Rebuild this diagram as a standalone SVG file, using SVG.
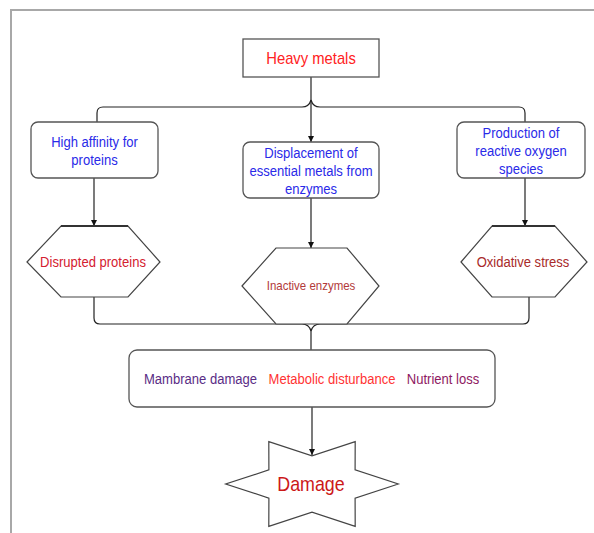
<svg xmlns="http://www.w3.org/2000/svg" width="594" height="533" viewBox="0 0 594 533">
<style>
  .frame { fill: none; stroke: #a8a8a8; stroke-width: 2; }
  .box { fill: #ffffff; stroke: #555555; stroke-width: 1.3; }
  .hex { fill: #ffffff; stroke: #444444; stroke-width: 1.2; }
  .hextop { fill: none; stroke: #333333; stroke-width: 2; }
  .conn { fill: none; stroke: #222222; stroke-width: 1.2; }
  text { font-family: "Liberation Sans", Arial, sans-serif; text-anchor: middle; dominant-baseline: central; }
  .blue { fill: #2a2ae8; font-size: 15px; }
  .t15 { font-size: 15px; }
</style>
<defs>
  <marker id="arr" viewBox="0 0 10 10" refX="10" refY="5" markerWidth="6" markerHeight="6" orient="auto" markerUnits="userSpaceOnUse">
    <path d="M0,0 L10,5 L0,10 z" fill="#111111"/>
  </marker>
</defs>

<path class="frame" d="M11,533 L11,10 L594,10"/>

<g id="connectors">
  <path class="conn" d="M311,77 L311,142" marker-end="url(#arr)"/>
  <path class="conn" d="M97,122 L97,113 Q97,107 103,107 L302,107 Q309,107 311,100"/>
  <path class="conn" d="M525,122 L525,113 Q525,107 519,107 L320,107 Q313,107 311,100"/>
  <path class="conn" d="M94,178 L94,226" marker-end="url(#arr)"/>
  <path class="conn" d="M311,198 L311,248" marker-end="url(#arr)"/>
  <path class="conn" d="M525,178 L525,226" marker-end="url(#arr)"/>
  <path class="conn" d="M94,297 L94,318 Q94,324 100,324 L302,324 Q309,324 311,331"/>
  <path class="conn" d="M529,297 L529,318 Q529,324 523,324 L320,324 Q313,324 311,331"/>
  <path class="conn" d="M311,331 L311,350"/>
  <path class="conn" d="M312,407 L312,455" marker-end="url(#arr)"/>
</g>

<g id="heavy-metals">
  <rect class="box" x="243" y="39" width="136" height="38"/>
  <text transform="translate(311,58) scale(0.87,1)" style="font-size:17px; fill:#ff2222;">Heavy metals</text>
</g>

<g id="high-affinity">
  <rect class="box" x="31" y="122" width="127" height="56" rx="7"/>
  <text class="blue" transform="translate(94.5,142) scale(0.87,1)">High affinity for</text>
  <text class="blue" transform="translate(94.5,160) scale(0.87,1)">proteins</text>
</g>

<g id="displacement">
  <rect class="box" x="243" y="142" width="136" height="56" rx="7"/>
  <text class="blue" transform="translate(311,153) scale(0.87,1)">Displacement of</text>
  <text class="blue" transform="translate(311,171) scale(0.87,1)">essential metals from</text>
  <text class="blue" transform="translate(311,189) scale(0.87,1)">enzymes</text>
</g>

<g id="ros">
  <rect class="box" x="457" y="122" width="128" height="56" rx="7"/>
  <text class="blue" transform="translate(521,133) scale(0.87,1)">Production of</text>
  <text class="blue" transform="translate(521,151) scale(0.87,1)">reactive oxygen</text>
  <text class="blue" transform="translate(521,169) scale(0.87,1)">species</text>
</g>

<g id="disrupted-proteins">
  <polygon class="hex" points="27,262 61,226 128,226 160,262 128,297 61,297"/>
  <path class="hextop" d="M61,226 L128,226"/>
  <text class="t15" transform="translate(93,262) scale(0.87,1)" style="fill:#d42030;">Disrupted proteins</text>
</g>

<g id="inactive-enzymes">
  <polygon class="hex" points="242,286 276,248 347,248 379,286 347,324 276,324"/>
  <text transform="translate(311,286) scale(0.87,1)" style="font-size:13.2px; fill:#b23a3a;">Inactive enzymes</text>
</g>

<g id="oxidative-stress">
  <polygon class="hex" points="461,262 492,226 555,226 587,262 555,297 492,297"/>
  <path class="hextop" d="M492,226 L555,226"/>
  <text class="t15" transform="translate(523,262) scale(0.87,1)" style="fill:#a82a2a;">Oxidative stress</text>
</g>

<g id="effects">
  <rect class="box" x="129" y="350" width="366" height="57" rx="8"/>
  <text class="t15" transform="translate(200.5,379) scale(0.87,1)" style="fill:#5a2d86;">Mambrane damage</text>
  <text class="t15" transform="translate(332,379) scale(0.87,1)" style="fill:#ff3333;">Metabolic disturbance</text>
  <text class="t15" transform="translate(443,379) scale(0.87,1)" style="fill:#8e1a62;">Nutrient loss</text>
</g>

<g id="damage">
  <polygon class="hex" points="398.3,484 355.1,498.1 355.2,526.3 312,512.2 268.8,526.3 268.9,498.1 225.7,484 268.9,469.9 268.8,441.7 312,455.8 355.2,441.7 355.1,469.9"/>
  <text transform="translate(311,483) scale(0.85,1)" style="font-size:21px; fill:#cc1818;">Damage</text>
</g>
</svg>
